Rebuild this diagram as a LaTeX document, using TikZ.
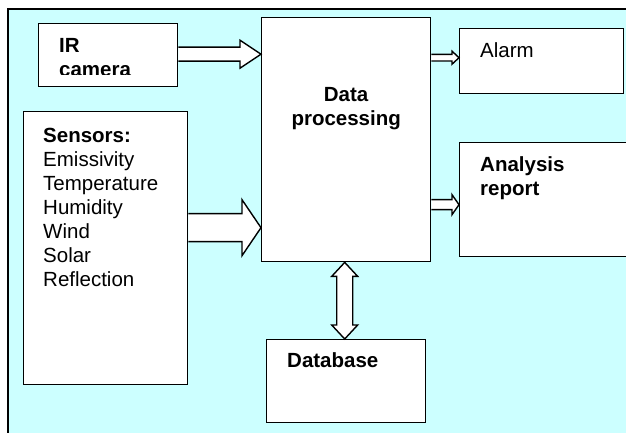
\documentclass[tikz,border=0pt]{standalone}
\usepackage{fontspec}
\setmainfont{Liberation Sans}
\usetikzlibrary{calc}
\definecolor{panelcyan}{HTML}{CCFFFF}

\tikzset{
	box/.style={draw, line width=1.4pt, fill=white, inner sep=0pt, anchor=north west},
	boxtext/.style={anchor=base west, inner sep=0pt,
		font=\fontsize{20.5}{24}\selectfont},
	blockarrow/.style={draw, line width=1.4pt, fill=white, line join=miter},
}

% lines of a box text, first baseline on the node's base
\newcommand{\leftlines}[1]{\begin{tabular}[t]{@{}l@{}}#1\end{tabular}}
\newcommand{\midlines}[1]{\begin{tabular}[t]{@{}c@{}}#1\end{tabular}}

% horizontal block arrow: start, end, shaft half width, head half width, head length
\newcommand{\harrow}[5]{%
	\draw[blockarrow] let \p1=(#1), \p2=(#2) in
		(\x1,\y1+#3) -- (\x2-#5,\y1+#3) -- (\x2-#5,\y1+#4) -- (\x2,\y1)
		-- (\x2-#5,\y1-#4) -- (\x2-#5,\y1-#3) -- (\x1,\y1-#3);}

% vertical double block arrow: top tip, bottom tip, shaft half width, head half width, head length
\newcommand{\vdarrow}[5]{%
	\draw[blockarrow] let \p1=(#1), \p2=(#2) in
		(\x1,\y1) -- (\x1+#4,\y1-#5) -- (\x1+#3,\y1-#5) -- (\x1+#3,\y2+#5)
		-- (\x1+#4,\y2+#5) -- (\x1,\y2) -- (\x1-#4,\y2+#5) -- (\x1-#3,\y2+#5)
		-- (\x1-#3,\y1-#5) -- (\x1-#4,\y1-#5) -- cycle;}

\begin{document}
\begin{tikzpicture}[x=1pt, y=1pt]
	\useasboundingbox (0,0) rectangle (626,435);

	% panel
	\fill[panelcyan] (8,2) rectangle (640,426);
	\draw[line width=1.6pt] (8,2) -- (8,426) -- (640,426);

	% boxes
	\node[box, minimum width=139pt, minimum height=63pt] (ir) at (38,412) {};
	\node[box, minimum width=164pt, minimum height=273pt] (sensors) at (23,324) {};
	\node[box, minimum width=169pt, minimum height=244pt] (proc) at (261,418) {};
	\node[box, minimum width=164pt, minimum height=65pt] (alarm) at (459,407) {};
	\node[box, minimum width=181pt, minimum height=114pt] (report) at (459,293) {};
	\node[box, minimum width=159pt, minimum height=83pt] (db) at (266,96) {};

	% texts
	\begin{scope}
		\clip (ir.north west) rectangle ($(ir.south east)+(0,12.5)$);
		\node[boxtext] (irtext) at ($(ir.north west)+(21,-30)$)
			{\leftlines{\textbf{IR}\\\textbf{camera}}};
	\end{scope}
	\node[boxtext] (sensorstext) at ($(sensors.north west)+(20,-32)$)
		{\leftlines{\textbf{Sensors:}\\Emissivity\\Temperature\\Humidity\\Wind\\Solar\\Reflection}};
	\node[boxtext, anchor=base] (proctext) at ($(proc.north)+(0,-85)$)
		{\midlines{\textbf{Data}\\\textbf{processing}}};
	\node[boxtext] (alarmtext) at ($(alarm.north west)+(21,-30)$) {Alarm};
	\node[boxtext] (reporttext) at ($(report.north west)+(21,-30)$)
		{\leftlines{\textbf{Analysis}\\\textbf{report}}};
	\node[boxtext] (dbtext) at ($(db.north west)+(21,-29)$) {\textbf{Database}};

	% arrows
	\coordinate (irout) at ($(ir.east)+(0,1)$);
	\coordinate (irin) at (irout -| proc.west);
	\harrow{irout}{irin}{7pt}{14pt}{21pt}

	\coordinate (sensout) at ($(sensors.east)+(0,20.5)$);
	\coordinate (sensin) at (sensout -| proc.west);
	\harrow{sensout}{sensin}{14pt}{28pt}{19pt}

	\coordinate (alarmin) at ($(alarm.west)+(0,3.5)$);
	\coordinate (alarmout) at (alarmin -| proc.east);
	\harrow{alarmout}{alarmin}{3.3pt}{6.5pt}{7pt}

	\coordinate (reportin) at ($(report.west)+(0,-5)$);
	\coordinate (reportout) at (reportin -| proc.east);
	\harrow{reportout}{reportin}{5pt}{10pt}{7pt}

	\coordinate (dbup) at ($(proc.south)+(-1.5,0)$);
	\coordinate (dbdown) at (dbup |- db.north);
	\vdarrow{dbup}{dbdown}{8pt}{13pt}{14pt}
\end{tikzpicture}
\end{document}
